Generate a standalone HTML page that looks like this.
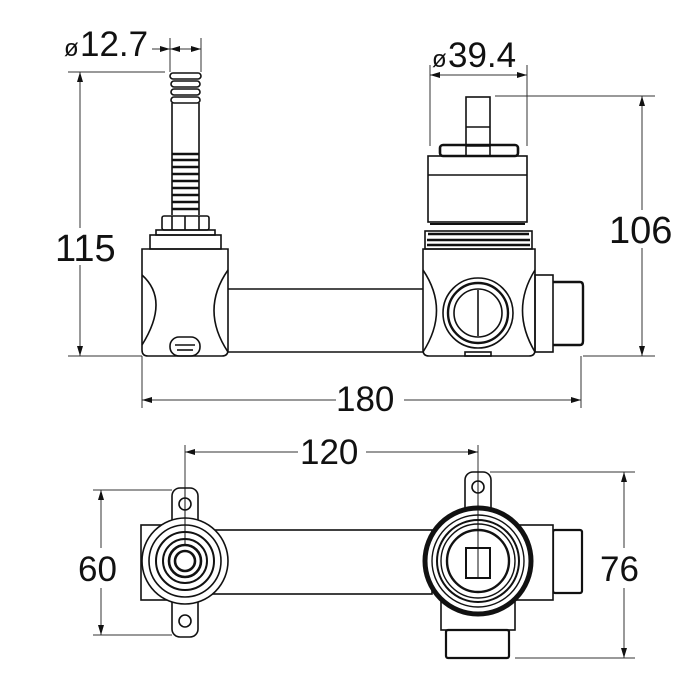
<!DOCTYPE html>
<html><head><meta charset="utf-8"><style>
html,body{margin:0;padding:0;background:#fff;}
svg{display:block;}
text{font-family:"Liberation Sans",sans-serif;fill:#111;}
</style></head><body>
<svg width="700" height="700" viewBox="0 0 700 700" xmlns="http://www.w3.org/2000/svg">
<defs>
<marker id="a" markerWidth="10" markerHeight="8" refX="10" refY="4" orient="auto-start-reverse" markerUnits="userSpaceOnUse">
<path d="M0,1 L10,4 L0,7 Z" fill="#111"/></marker>
</defs>
<g stroke="#333" stroke-width="1" fill="none">
 <line x1="170" y1="38" x2="170" y2="72"/><line x1="201" y1="38" x2="201" y2="72"/>
 <line x1="152" y1="49" x2="170" y2="49" marker-end="url(#a)"/>
 <line x1="170" y1="49" x2="201" y2="49" marker-start="url(#a)" marker-end="url(#a)"/>
 <line x1="430" y1="65" x2="430" y2="146"/><line x1="527" y1="65" x2="527" y2="146"/>
 <line x1="430" y1="75" x2="527" y2="75" marker-start="url(#a)" marker-end="url(#a)"/>
 <line x1="68" y1="72" x2="165" y2="72"/><line x1="68" y1="356" x2="142" y2="356"/>
 <line x1="80" y1="72" x2="80" y2="228" marker-start="url(#a)"/>
 <line x1="80" y1="265" x2="80" y2="356" marker-end="url(#a)"/>
 <line x1="495" y1="96" x2="655" y2="96"/><line x1="583" y1="356" x2="655" y2="356"/>
 <line x1="642" y1="96" x2="642" y2="210" marker-start="url(#a)"/>
 <line x1="642" y1="248" x2="642" y2="356" marker-end="url(#a)"/>
 <line x1="142" y1="356" x2="142" y2="408"/><line x1="581" y1="356" x2="581" y2="408"/>
 <line x1="142" y1="400" x2="336" y2="400" marker-start="url(#a)"/>
 <line x1="404" y1="400" x2="581" y2="400" marker-end="url(#a)"/>
 <line x1="185" y1="445" x2="185" y2="560"/><line x1="478" y1="445" x2="478" y2="560"/>
 <line x1="185" y1="452" x2="298" y2="452" marker-start="url(#a)"/>
 <line x1="366" y1="452" x2="478" y2="452" marker-end="url(#a)"/>
 <line x1="93" y1="490" x2="172" y2="490"/><line x1="93" y1="635" x2="172" y2="635"/>
 <line x1="101" y1="490" x2="101" y2="548" marker-start="url(#a)"/>
 <line x1="101" y1="588" x2="101" y2="635" marker-end="url(#a)"/>
 <line x1="490" y1="472" x2="635" y2="472"/><line x1="515" y1="658" x2="635" y2="658"/>
 <line x1="624" y1="472" x2="624" y2="548" marker-start="url(#a)"/>
 <line x1="624" y1="588" x2="624" y2="658" marker-end="url(#a)"/>
</g>
<text x="64" y="56" font-size="24">ø</text><text x="80" y="56" font-size="35">12.7</text>
<text x="432" y="67" font-size="24">ø</text><text x="448" y="67" font-size="35">39.4</text>
<text x="55" y="261" font-size="38">115</text>
<text x="609" y="243" font-size="38">106</text>
<text x="336" y="411" font-size="35">180</text>
<text x="300" y="464" font-size="35">120</text>
<text x="78" y="581" font-size="35">60</text>
<text x="600" y="581" font-size="35">76</text>

<g stroke="#111" stroke-width="1.6" fill="none">
 <rect x="170" y="73" width="31" height="6" rx="3"/>
 <rect x="171" y="81" width="29" height="6" rx="3"/>
 <rect x="171" y="89" width="29" height="6" rx="3"/>
 <rect x="171" y="97" width="29" height="6" rx="3"/>
 <line x1="172" y1="103" x2="172" y2="215"/><line x1="199" y1="103" x2="199" y2="215"/>
 <g stroke-width="2.4">
 <line x1="172" y1="154" x2="199" y2="154"/><line x1="172" y1="160" x2="199" y2="160"/>
 <line x1="172" y1="167" x2="199" y2="167"/><line x1="172" y1="174" x2="199" y2="174"/>
 <line x1="172" y1="181" x2="199" y2="181"/><line x1="172" y1="188" x2="199" y2="188"/>
 <line x1="172" y1="195" x2="199" y2="195"/><line x1="172" y1="202" x2="199" y2="202"/>
 <line x1="172" y1="209" x2="199" y2="209"/></g>
 <rect x="162" y="216" width="47" height="14" rx="2"/>
 <line x1="172" y1="216" x2="172" y2="230"/><line x1="185" y1="216" x2="185" y2="230"/><line x1="199" y1="216" x2="199" y2="230"/>
 <rect x="156" y="230" width="59" height="5"/>
 <rect x="150" y="235" width="71" height="14"/>
 <path d="M142,249 H228 V350 Q228,356 222,356 H148 Q142,356 142,350 Z"/>
 <path d="M142,275 Q170,300 142,345"/>
 <path d="M228,270 Q200,310 228,352"/>
 <rect x="170" y="337" width="30" height="19" rx="9"/>
 <line x1="175" y1="345" x2="195" y2="345"/><line x1="177" y1="350" x2="193" y2="350"/>
 <path d="M228,289 H423"/><path d="M228,352 H423"/>
 <path d="M423,249 H535 V350 Q535,356 529,356 H429 Q423,356 423,350 Z"/>
 <path d="M423,270 Q450,310 423,352"/>
 <path d="M535,270 Q510,310 535,352"/>
 <circle cx="478" cy="313" r="35"/>
 <circle cx="478" cy="313" r="30" stroke-width="2.4"/>
 <circle cx="478" cy="313" r="24"/>
 <line x1="478" y1="290" x2="478" y2="336"/>
 <rect x="465" y="352" width="26" height="4"/>
 <rect x="535" y="275" width="18" height="77"/>
 <path d="M553,282 H580 Q583,282 583,286 V341 Q583,345 580,345 H553" stroke-width="2.4"/>
 <rect x="425" y="231" width="107" height="18"/>
 <g stroke-width="2.6"><line x1="428" y1="234" x2="529" y2="234"/><line x1="427" y1="240" x2="530" y2="240"/><line x1="427" y1="245" x2="530" y2="245"/></g>
 <rect x="428" y="156" width="99" height="66"/>
 <line x1="428" y1="175" x2="527" y2="175"/>
 <line x1="430" y1="224" x2="525" y2="224" stroke-width="2"/>
 <rect x="440" y="145" width="78" height="11" rx="3" stroke-width="2.6"/>
 <rect x="466" y="97" width="24" height="59"/>
 <line x1="466" y1="127" x2="490" y2="127"/>
 <line x1="466" y1="146" x2="490" y2="146"/>
</g>

<g stroke="#111" stroke-width="1.6" fill="#fff">
 <rect x="172" y="488" width="26" height="149" rx="8"/>
 <rect x="141" y="525" width="40" height="75" fill="none"/>
 <rect x="210" y="530" width="222" height="64"/>
 <circle cx="185" cy="561" r="43"/>
 <circle cx="185" cy="561" r="36" fill="none"/>
 <circle cx="185" cy="561" r="29" fill="none" stroke-width="2"/>
 <circle cx="185" cy="561" r="22" fill="none" stroke-width="2"/>
 <circle cx="185" cy="561" r="16" fill="none" stroke-width="2.6"/>
 <circle cx="185" cy="561" r="10" fill="none" stroke-width="2.6"/>
 <circle cx="185" cy="504" r="6"/>
 <circle cx="185" cy="621" r="6"/>
 <rect x="441" y="595" width="74" height="35"/>
 <rect x="446" y="630" width="63" height="28" rx="2" stroke-width="2.2"/>
 <rect x="553" y="530" width="29" height="63" rx="2" stroke-width="2.2"/>
 <rect x="515" y="525" width="38" height="75"/>
 <rect x="465" y="472" width="26" height="50" rx="8"/>
 <circle cx="478" cy="487" r="6"/>
 <circle cx="478" cy="561" r="53" stroke-width="5"/>
 <circle cx="478" cy="561" r="46" fill="none" stroke-width="1.4"/>
 <circle cx="478" cy="561" r="41" fill="none" stroke-width="2"/>
 <circle cx="478" cy="561" r="37" fill="none" stroke-width="1.4"/>
 <circle cx="478" cy="561" r="31" fill="none" stroke-width="2.4"/>
 <rect x="466" y="548" width="24" height="30" stroke-width="2"/>
 <line x1="478" y1="472" x2="478" y2="578" stroke-width="1"/>
 <line x1="185" y1="488" x2="185" y2="545" stroke-width="1"/>
</g>
</svg>
</body></html>
